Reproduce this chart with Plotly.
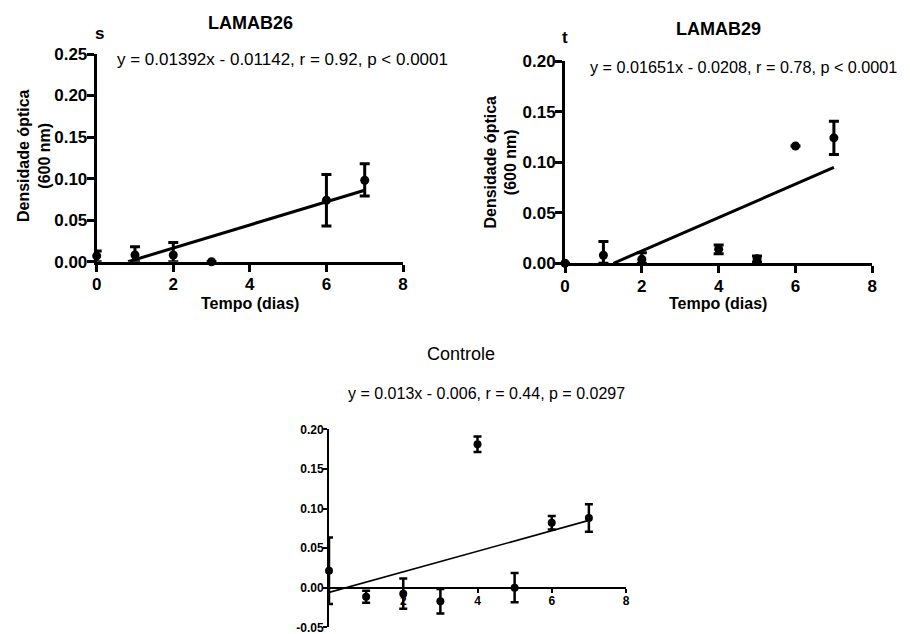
import plotly.graph_objects as go

# ---------------- data ----------------
days_26 = [0, 1, 2, 3, 6, 7]
od_26 = [0.007, 0.008, 0.008, 0.0, 0.074, 0.098]
err_plus_26 = [0.006, 0.010, 0.015, 0.0, 0.031, 0.020]
err_minus_26 = [0.007, 0.008, 0.008, 0.0, 0.031, 0.019]
fit_x_26 = [0.82, 7]
fit_y_26 = [0.0, 0.0860]

days_29 = [0, 1, 2, 4, 5, 6, 7]
od_29 = [0.0, 0.008, 0.004, 0.014, 0.0046, 0.116, 0.124]
err_plus_29 = [0.0, 0.0135, 0.0065, 0.004, 0.0026, 0.0, 0.0165]
err_minus_29 = [0.0, 0.008, 0.004, 0.0046, 0.0033, 0.0, 0.0165]
fit_x_29 = [1.26, 7]
fit_y_29 = [0.0, 0.0948]

days_ctrl = [0, 1, 2, 3, 4, 5, 6, 7]
od_ctrl = [0.0215, -0.0114, -0.0075, -0.017, 0.181, 0.0, 0.082, 0.088]
err_ctrl = [0.042, 0.0075, 0.019, 0.0155, 0.0098, 0.0185, 0.0085, 0.0175]
fit_x_ctrl = [0, 7]
fit_y_ctrl = [-0.006, 0.085]

x_ticks = [0, 2, 4, 6, 8]
x_tick_text = ["0", "2", "4", "6", "8"]
x_tick_text_ctrl = ["", "2", "4", "6", "8"]
y_ticks_26 = [0, 0.05, 0.10, 0.15, 0.20, 0.25]
y_tick_text_26 = ["0.00", "0.05", "0.10", "0.15", "0.20", "0.25"]
y_ticks_29 = [0, 0.05, 0.10, 0.15, 0.20]
y_tick_text_29 = ["0.00", "0.05", "0.10", "0.15", "0.20"]
y_ticks_ctrl = [-0.05, 0, 0.05, 0.10, 0.15, 0.20]
y_tick_text_ctrl = ["-0.05", "0.00", "0.05", "0.10", "0.15", "0.20"]

title_26 = "LAMAB26"
title_29 = "LAMAB29"
title_ctrl = "Controle"
eq_26 = "y = 0.01392x - 0.01142, r = 0.92, p < 0.0001"
eq_29 = "y = 0.01651x - 0.0208, r = 0.78, p < 0.0001"
eq_ctrl = "y = 0.013x - 0.006, r = 0.44, p = 0.0297"
y_title = "Densidade óptica<br>(600 nm)"
x_title = "Tempo (dias)"

# ---------------- figure ----------------
# the page body has an 8px margin, so the figure is drawn 8px in from the corner
OFF = 8
W, H = 910 - OFF, 634 - OFF
FONT = "Arial, 'Liberation Sans', sans-serif"


def px(x):
    return (x - OFF) / W


def py(y):
    return 1 - (y - OFF) / H


fig = go.Figure()


def add_panel(xs, ys, ep, em, fx, fy, xa, ya, msize, ethick, ewidth, lwidth):
    fig.add_trace(go.Scatter(
        x=fx, y=fy, mode="lines", xaxis=xa, yaxis=ya,
        line=dict(color="black", width=lwidth), showlegend=False, hoverinfo="skip"))
    fig.add_trace(go.Scatter(
        x=xs, y=ys, mode="markers", xaxis=xa, yaxis=ya, cliponaxis=False,
        marker=dict(color="black", size=msize),
        error_y=dict(type="data", symmetric=False, array=ep, arrayminus=em,
                     color="black", thickness=ethick, width=ewidth),
        showlegend=False))


add_panel(days_26, od_26, err_plus_26, err_minus_26, fit_x_26, fit_y_26,
          "x", "y", 9, 3, 5, 3)
add_panel(days_29, od_29, err_plus_29, err_minus_29, fit_x_29, fit_y_29,
          "x2", "y2", 9, 3, 5, 3)
add_panel(days_ctrl, od_ctrl, err_ctrl, err_ctrl, fit_x_ctrl, fit_y_ctrl,
          "x3", "y3", 8, 2.5, 4, 1.6)

big_axis = dict(showline=True, linewidth=3, linecolor="black", mirror=False,
                ticks="outside", ticklen=7, tickwidth=3, tickcolor="black",
                showgrid=False, zeroline=False, automargin=False,
                tickfont=dict(family=FONT, size=17, color="black", weight="bold"))
small_axis = dict(showline=True, linewidth=2, linecolor="black", mirror=False,
                  ticks="outside", ticklen=4, tickwidth=2, tickcolor="black",
                  showgrid=False, zeroline=False, automargin=False,
                  ticklabeloverflow="allow",
                  tickfont=dict(family=FONT, size=12, color="black", weight="bold"))

# chart 1 domain
x1d = [px(96.7), px(403)]
y1d = [py(261.7), py(54)]
# chart 2
x2d = [px(565), px(872.3)]
y2d = [py(263.3), py(61)]
# chart 3
x3d = [px(329), px(626)]
y3d = [py(627.3), py(429.3)]

fig.update_layout(
    width=W, height=H, autosize=False,
    margin=dict(l=0, r=0, t=0, b=0, pad=0),
    paper_bgcolor="white", plot_bgcolor="white",
    font=dict(family=FONT, color="black"),
    xaxis=dict(domain=x1d, anchor="y", range=[0, 8], tickvals=x_ticks,
               ticktext=x_tick_text, ticklabelstandoff=-2, **big_axis),
    yaxis=dict(domain=y1d, anchor="x", range=[0, 0.25], tickvals=y_ticks_26,
               ticktext=y_tick_text_26, ticklabelstandoff=-4, **big_axis),
    xaxis2=dict(domain=x2d, anchor="y2", range=[0, 8], tickvals=x_ticks,
                ticktext=x_tick_text, ticklabelstandoff=-2, **big_axis),
    yaxis2=dict(domain=y2d, anchor="x2", range=[0, 0.20], tickvals=y_ticks_29,
                ticktext=y_tick_text_29, ticklabelstandoff=-4, **big_axis),
    xaxis3=dict(domain=x3d, anchor="free", position=py(587.7), range=[0, 8],
                tickvals=x_ticks, ticktext=x_tick_text_ctrl, ticklabelstandoff=-2,
                **small_axis),
    yaxis3=dict(domain=y3d, anchor="x3", range=[-0.05, 0.20], tickvals=y_ticks_ctrl,
                ticktext=y_tick_text_ctrl, ticklabelstandoff=-3, **small_axis),
)

ann = []


def text(x, y, t, size, bold=False, angle=0, anchor="center"):
    ann.append(dict(x=px(x), y=py(y), xref="paper", yref="paper", text=t,
                    showarrow=False, xanchor=anchor, yanchor="middle",
                    textangle=angle,
                    font=dict(family=FONT, size=size, color="black",
                              weight="bold" if bold else "normal")))


text(250, 23, title_26, 18, bold=True)
text(99, 33, "s", 17, bold=True)
text(282.5, 60, eq_26, 17)
text(34, 156, y_title, 16, bold=True, angle=-90)
text(250, 303, x_title, 16, bold=True)

text(718, 29, title_29, 18, bold=True)
text(565, 38, "t", 17, bold=True)
text(899, 67, eq_29, 16.2, anchor="right")
text(500.5, 162, y_title, 16, bold=True, angle=-90)
text(718, 303, x_title, 16, bold=True)

text(461, 354, title_ctrl, 18)
text(487, 393, eq_ctrl, 16)

fig.update_layout(annotations=ann)

fig.write_html("out.html")
